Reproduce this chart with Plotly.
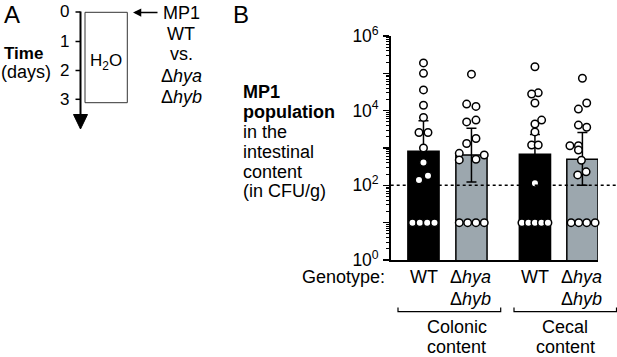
import plotly.graph_objects as go

# ---------------- data ----------------
genotypes = ["WT", "Δhya Δhyb", "WT", "Δhya Δhyb"]
sites = ["Colonic content", "Colonic content", "Cecal content", "Cecal content"]
bar_means = [820, 650, 680, 500]
sd_upper = [5400, 3400, 2300, 2600]
sd_lower = [120, 123, 110, 100]

wt_colonic = [190000, 100000, 36000, 14000, 6600, 2600, 2600, 1000, 410, 180, 140, 10, 10, 10, 10]
delta_colonic = [95000, 15000, 13000, 5600, 5000, 1800, 1320, 720, 650, 500, 480, 10, 10, 10, 10]
wt_cecal = [150000, 30000, 28000, 16000, 5600, 4400, 2700, 1200, 1200, 113, 10, 10, 10, 10, 10]
delta_cecal = [74000, 16000, 11000, 4100, 3600, 1150, 1150, 880, 470, 230, 190, 10, 10, 10, 10]
points = [wt_colonic, delta_colonic, wt_cecal, delta_cecal]

ytick_vals = [1, 10, 100, 1000, 10000, 100000, 1000000]
ytick_text = ["10<sup>0</sup>", " ", "10<sup>2</sup>", " ", "10<sup>4</sup>", " ", "10<sup>6</sup>"]
detection_limit = 100

# ---------------- layout helpers (positions/styles) ----------------
W, H = 617, 357
UNIT = 48.0                       # px per x unit
centers = [0.0, 1.0, 2.323, 3.3125]
bar_width = 0.65
offsets_px = [
    [0, 0, 0, 0, 0, -4.5, 4.5, 0, 0, 4.5, -4.5, -11, -3.7, 3.7, 11],
    [0, -4.8, 4.5, 4.5, -4.8, 4.5, -4.8, -12.2, 12.8, 4.5, -12.2, -12.2, -3.8, 4.5, 12.8],
    [0, 3.3, -3.3, 0, 6.7, 0, 0, -3.3, 3.3, 0, -13, -6.5, 0, 6.5, 13],
    [0, 4.3, -4, -4, 4.3, -12.5, -4, -4, -1, 3.7, -4.7, -11.3, -3.7, 4.3, 12.7],
]
bar_colors = ["#000000", "#9ca7ae", "#000000", "#9ca7ae"]
FONT = "Liberation Sans, Arial, sans-serif"
FS = 18


def px(x):
    return x / W


def py(y):
    return 1 - y / H


x_left_px, x_right_px = 390.7, 598.0
y_top_px, y_bot_px = 36.0, 260.0
x_range = [centers[0] - (423.5 - x_left_px) / UNIT, centers[3] + bar_width / 2]

fig = go.Figure()

fig.add_trace(go.Bar(
    x=centers, y=bar_means, width=bar_width,
    marker=dict(color=bar_colors, line=dict(color="black", width=1.5)),
    error_y=dict(type="data", symmetric=False,
                 array=[u - m for u, m in zip(sd_upper, bar_means)],
                 arrayminus=[m - l for m, l in zip(bar_means, sd_lower)],
                 color="black", thickness=1.5, width=5),
    showlegend=False, hoverinfo="skip",
))

for c, vals, offs in zip(centers, points, offsets_px):
    fig.add_trace(go.Scatter(
        x=[c + o / UNIT for o in offs], y=vals, mode="markers",
        marker=dict(size=7.5, color="white", line=dict(color="black", width=1.5)),
        showlegend=False, hoverinfo="skip", cliponaxis=False,
    ))

minor_vals = [m * 10 ** k for k in range(6) for m in range(2, 10)]

fig.update_layout(
    template="none",
    width=W, height=H, autosize=False,
    margin=dict(l=0, r=0, t=0, b=0, pad=0, autoexpand=False),
    paper_bgcolor="white", plot_bgcolor="white",
    font=dict(family=FONT, size=FS, color="black"),
    xaxis=dict(domain=[px(x_left_px), px(x_right_px)], range=x_range, automargin=False,
               showgrid=False, zeroline=False, showticklabels=False, ticks="",
               showline=True, linecolor="black", linewidth=1.5, fixedrange=True),
    yaxis=dict(domain=[py(y_bot_px), py(y_top_px)], type="log", range=[0, 6],
               automargin=False,
               showgrid=False, zeroline=False, showline=True, linecolor="black",
               linewidth=1.5, ticks="outside", ticklen=6, tickwidth=1.5,
               tickcolor="black", tickmode="array", tickvals=ytick_vals,
               ticktext=ytick_text, tickfont=dict(size=17.5), ticklabelstandoff=1,
               minor=dict(ticks="outside", ticklen=3, tickwidth=1, tickcolor="black",
                          tickmode="array", tickvals=minor_vals, showgrid=False),
               fixedrange=True),
)

shapes = []
# detection limit dashed line
shapes.append(dict(type="line", xref="paper", yref="y", x0=px(x_left_px), x1=px(617),
                   y0=detection_limit, y1=detection_limit,
                   line=dict(color="black", width=1.5, dash="3px,3px")))

# Panel A: time axis
shapes.append(dict(type="line", xref="paper", yref="paper", x0=px(80.5), x1=px(80.5),
                   y0=py(11.5), y1=py(116), line=dict(color="black", width=2)))
shapes.append(dict(type="path", xref="paper", yref="paper",
                   path=f"M {px(73.5)} {py(114.5)} L {px(87.5)} {py(114.5)} L {px(80.5)} {py(129)} Z",
                   fillcolor="black", line=dict(color="black", width=1)))
day_y = [12, 41.5, 70.5, 99.3]
for d, yy in enumerate(day_y):
    shapes.append(dict(type="line", xref="paper", yref="paper", x0=px(75.5), x1=px(80.5),
                       y0=py(yy), y1=py(yy), line=dict(color="black", width=1.5)))
shapes.append(dict(type="rect", xref="paper", yref="paper", x0=px(85), x1=px(127.3),
                   y0=py(12.3), y1=py(102.7), line=dict(color="#333333", width=1)))

# brackets
for xa, xb in [(398, 500.7), (514, 616.5)]:
    shapes.append(dict(type="path", xref="paper", yref="paper",
                       path=f"M {px(xa)} {py(307.5)} L {px(xa)} {py(311.7)} L {px(xb)} {py(311.7)} L {px(xb)} {py(307.5)}",
                       line=dict(color="black", width=1.2)))

fig.update_layout(shapes=shapes)

ann = []


def text(x, y, s, size=FS, xanchor="center", **kw):
    ann.append(dict(x=px(x), y=py(y), xref="paper", yref="paper", text=s, showarrow=False,
                    xanchor=xanchor, yanchor="middle", borderpad=0,
                    font=dict(size=size, family=FONT, color="black"), **kw))


text(12, 15, "A", size=24)
text(241, 15, "B", size=24)
for d, yy in enumerate(day_y):
    text(69.5, yy, str(d), size=17, xanchor="right")
text(23, 53, "<b>Time</b>", size=17)
text(26, 72, "(days)", size=18)
text(106, 62, "H<sub>2</sub>O", size=17)
ann.append(dict(x=px(133), y=py(12.5), xref="paper", yref="paper", text="", showarrow=True,
                ax=26, ay=0, axref="pixel", ayref="pixel", arrowhead=2, arrowsize=1.1,
                arrowwidth=1.5, arrowcolor="black"))
for s, yy in [("MP1", 13), ("WT", 33.5), ("vs.", 53.5), ("Δ<i>hya</i>", 76), ("Δ<i>hyb</i>", 97.5)]:
    text(181, yy, s)

ylab = [("<b>MP1</b>", 92), ("<b>population</b>", 112), ("in the", 132), ("intestinal", 152),
        ("content", 171.5), ("(in CFU/g)", 191)]
for s, yy in ylab:
    text(241.5, yy, s, xanchor="left")

text(386, 277, "Genotype:", xanchor="right")
for c, g in zip(centers, genotypes):
    xc = 423.5 + (c - centers[0]) * UNIT
    if g == "WT":
        text(xc, 277, "WT")
    else:
        text(xc - 1, 277, "Δ<i>hya</i>")
        text(xc - 1, 298.5, "Δ<i>hyb</i>")

text(456.5, 327, "Colonic")
text(456.5, 346.5, "content")
text(565, 327, "Cecal")
text(565, 346.5, "content")

fig.update_layout(annotations=ann)

fig.write_html("out.html", config={"displayModeBar": False, "staticPlot": True},
               post_script="document.body.style.margin='0';document.body.style.overflow='hidden';")
